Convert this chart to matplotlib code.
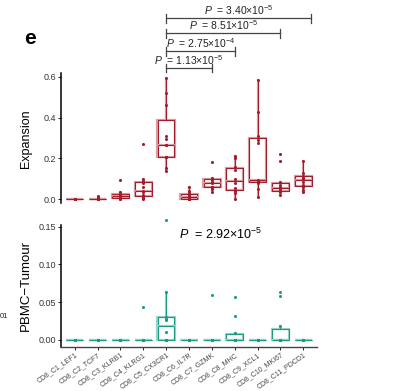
import matplotlib
matplotlib.use("Agg")
import matplotlib.pyplot as plt
import numpy as np

plt.rcParams['font.family'] = ['Liberation Sans', 'DejaVu Sans']
plt.rcParams['mathtext.fontset'] = 'custom'
plt.rcParams['mathtext.rm'] = 'Liberation Sans'
plt.rcParams['mathtext.it'] = 'Liberation Sans:italic'

categories = ["CD8_C1_LEF1", "CD8_C2_TCF7", "CD8_C3_KLRB1", "CD8_C4_KLRG1",
              "CD8_C5_CX3CR1", "CD8_C6_IL7R", "CD8_C7_GZMK", "CD8_C8_MHC",
              "CD8_C9_XCL1", "CD8_C10_MKI67", "CD8_C11_PDCD1"]

expansion = [
    [0, 0, 0, 0, 0.001, 0.002, 0.003, 0.001, 0, 0],
    [0, 0, 0, 0, 0, 0, 0.001, 0.002, 0.012, 0.018],
    [0, 0.002, 0.005, 0.009, 0.012, 0.015, 0.02, 0.025, 0.034, 0.092],
    [0, 0.004, 0.01, 0.02, 0.035, 0.042, 0.06, 0.08, 0.088, 0.1, 0.27],
    [0.14, 0.155, 0.206, 0.206, 0.266, 0.266, 0.294, 0.31, 0.462, 0.522, 0.596],
    [0, 0, 0.002, 0.008, 0.012, 0.014, 0.02, 0.03, 0.04, 0.058],
    [0.037, 0.05, 0.058, 0.062, 0.078, 0.084, 0.092, 0.1, 0.106, 0.18],
    [0, 0.029, 0.042, 0.054, 0.081, 0.098, 0.143, 0.156, 0.2, 0.212],
    [0.01, 0.049, 0.08, 0.085, 0.09, 0.094, 0.274, 0.29, 0.31, 0.427, 0.584],
    [0.021, 0.037, 0.04, 0.05, 0.054, 0.058, 0.07, 0.083, 0.189, 0.224],
    [0.033, 0.046, 0.06, 0.07, 0.085, 0.1, 0.106, 0.115, 0.127, 0.188],
]

pbmc_tumour = [
    [0] * 10,
    [0] * 10,
    [0] * 10,
    [0] * 9 + [0.043],
    [0, 0, 0, 0, 0.011, 0.026, 0.028, 0.031, 0.064, 0.158],
    [0] * 10,
    [0] * 9 + [0.06],
    [0, 0, 0, 0, 0, 0, 0, 0.0097, 0.032, 0.0565],
    [0] * 10,
    [0, 0, 0, 0, 0, 0, 0, 0.019, 0.058, 0.063],
    [0] * 10,
]

comparisons = [(5, 7, "1.13", "-5"), (5, 8, "2.75", "-4"),
               (5, 10, "8.51", "-5"), (5, 11.35, "3.40", "-5")]
kw_p = ("2.92", "-5")

RED = "#A11D2B"
RED_L = "#D9A0A6"
TEAL = "#179C84"
TEAL_L = "#9DD4C8"

fig = plt.figure(figsize=(4.08, 3.91), dpi=100)
ax1 = fig.add_axes([61 / 408, 1 - 203.3 / 391, (317 - 61) / 408, (203.3 - 73.3) / 391])
ax2 = fig.add_axes([61 / 408, 1 - 346.5 / 391, (317 - 61) / 408, (346.5 - 225) / 391])

pos = np.arange(1, len(categories) + 1)


def draw(ax, data, col, lcol):
    for w, c, lw in [(0.76, lcol, 1.6), (0.72, col, 0.8)]:
        ax.boxplot(data, positions=pos, widths=w, whis=1.5, showfliers=False,
                   patch_artist=True, manage_ticks=False,
                   boxprops=dict(facecolor='none', edgecolor=c, linewidth=lw),
                   medianprops=dict(color=c, linewidth=lw),
                   whiskerprops=dict(color=c, linewidth=lw),
                   capprops=dict(linewidth=0))
    for p, d in zip(pos, data):
        ax.plot([p] * len(d), d, 'o', ms=2.2, color=col, mec='none', clip_on=False, zorder=5)


draw(ax1, expansion, RED, RED_L)
draw(ax2, pbmc_tumour, TEAL, TEAL_L)

for ax in (ax1, ax2):
    ax.set_xlim(0.4, 11.6)
    for s in ('top', 'right'):
        ax.spines[s].set_visible(False)
    ax.spines['left'].set_linewidth(1.1)
    ax.spines['left'].set_color('black')
    ax.tick_params(axis='y', labelsize=6.5, length=2, width=0.6, pad=1.5, labelcolor='#333333')

ax1.set_ylim(-0.02, 0.617)
ax1.set_yticks([0, 0.2, 0.4, 0.6])
ax1.set_yticklabels(["0.0", "0.2", "0.4", "0.6"])
ax1.spines['bottom'].set_visible(False)
ax1.set_xticks([])
ax1.set_ylabel("Expansion", fontsize=9)

ax2.set_ylim(-0.0086, 0.152)
ax2.set_yticks([0, 0.05, 0.10, 0.15])
ax2.set_yticklabels(["0.00", "0.05", "0.10", "0.15"])
ax2.spines['bottom'].set_color('#444444')
ax2.spines['bottom'].set_linewidth(1.0)
ax2.set_xticks(pos)
ax2.set_xticklabels(categories, rotation=35, ha='right', rotation_mode='anchor',
                    fontsize=5.0, color='#444444')
ax2.tick_params(axis='x', length=2, width=0.6, pad=1.5)
ax2.set_ylabel("PBMC\u2212Tumour", fontsize=9.5)

ax1.yaxis.set_label_coords(-0.115, 0.5)
ax2.yaxis.set_label_coords(-0.115, 0.5)

# significance brackets
line_y = [0.643, 0.726, 0.814, 0.887]
for (a, b, m, e), y in zip(comparisons, line_y):
    ax1.plot([a, b], [y, y], color='#444444', lw=0.9, clip_on=False)
    for xx in (a, b):
        ax1.plot([xx, xx], [y - 0.022, y + 0.02], color='#444444', lw=0.9, clip_on=False)
    ax1.text((a + b) / 2, y + 0.016, r"$\it{P}$  = " + m + r"×10$^{" + e + "}$",
             ha='center', va='baseline', fontsize=7.5, color='#222222', clip_on=False)

ax2.text(5.55, 0.133, r"$\it{P}$  = " + kw_p[0] + r"×10$^{" + kw_p[1] + "}$",
         ha='left', va='baseline', fontsize=9, color='black')

fig.text(30 / 408, 1 - 44 / 391, "e", fontsize=15, fontweight='bold', ha='center', va='baseline')
fig.text(0 / 408, 1 - 318 / 391, "01", fontsize=5.5, ha='left', va='baseline', color='#222222')

fig.savefig("out.png", dpi=100)
